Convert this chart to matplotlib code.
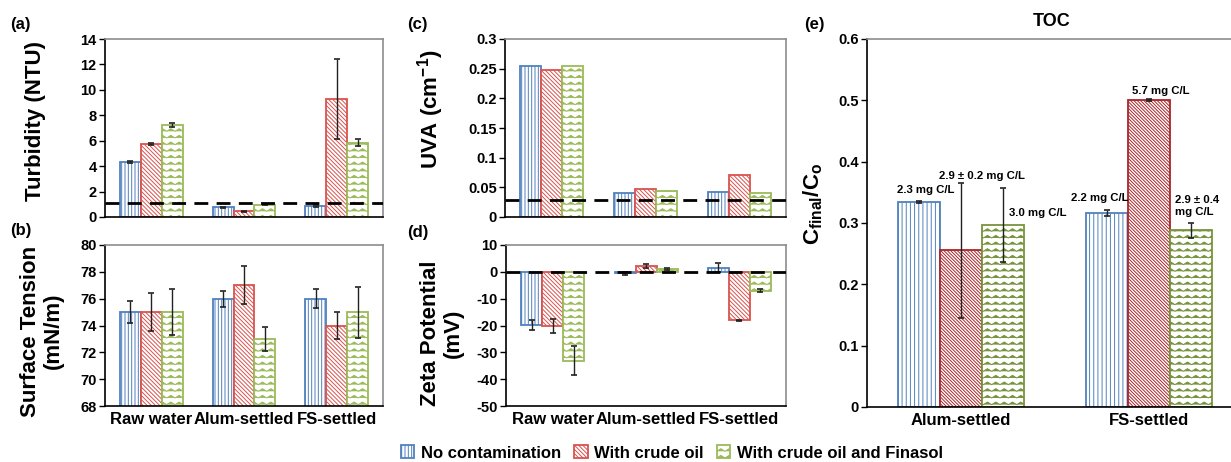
import numpy as np
import matplotlib
matplotlib.use('Agg')
import matplotlib.pyplot as plt
import matplotlib.hatch as mhatch
from matplotlib.path import Path
from matplotlib.ticker import FuncFormatter, MultipleLocator
import warnings
warnings.filterwarnings('ignore')

# ---------------- data ----------------
cats3 = ['Raw water', 'Alum-settled', 'FS-settled']
cats2 = ['Alum-settled', 'FS-settled']
series_labels = ['No contamination', 'With crude oil', 'With crude oil and Finasol']

turb_none = [4.33, 0.76, 0.84]
turb_oil = [5.73, 0.47, 9.25]
turb_fin = [7.22, 0.97, 5.83]
turb_none_err = [0.05, 0.05, 0.08]
turb_oil_err = [0.08, 0.04, 3.15]
turb_fin_err = [0.15, 0.04, 0.28]
turb_limit = 1.13

st_none = [75.0, 76.0, 76.0]
st_oil = [75.0, 77.0, 74.0]
st_fin = [75.0, 73.0, 75.0]
st_none_err = [0.8, 0.6, 0.7]
st_oil_err = [1.4, 1.4, 1.0]
st_fin_err = [1.7, 0.9, 1.9]

uva_none = [0.254, 0.041, 0.042]
uva_oil = [0.248, 0.047, 0.0715]
uva_fin = [0.255, 0.043, 0.041]
uva_limit = 0.028

zeta_none = [-19.7, -0.6, 1.5]
zeta_oil = [-20.2, 2.2, -18.1]
zeta_fin = [-33.1, 1.0, -7.0]
zeta_none_err = [1.9, 0.4, 1.7]
zeta_oil_err = [2.7, 0.9, 0.3]
zeta_fin_err = [5.5, 0.5, 0.7]
zeta_ref = 0.0

toc_none = [0.3346, 0.3161]
toc_oil = [0.2552, 0.5005]
toc_fin = [0.2971, 0.2878]
toc_none_err = [0.002, 0.005]
toc_oil_err = [0.11, 0.001]
toc_fin_err = [0.06, 0.013]
toc_labels_none = ['2.3 mg C/L', '2.2 mg C/L']
toc_labels_oil = ['2.9 \u00b1 0.2 mg C/L', '5.7 mg C/L']
toc_labels_fin = ['3.0 mg C/L', '2.9 \u00b1 0.4\nmg C/L']

# ---------------- custom wavy hatch ----------------
class WaveHatch(mhatch.HatchPatternBase):
    def __init__(self, hatch, density):
        n = hatch.count('~')
        self.rows = 15 if n else 0
        self.segs = 24
        self.num_vertices = self.rows * (self.segs + 1)

    def set_vertices_and_codes(self, vertices, codes):
        k = self.segs + 1
        xs = np.linspace(0.0, 1.0, k)
        amp = 0.013
        offs = np.where(np.arange(k) % 2 == 0, -amp, amp)
        for i in range(self.rows):
            y0 = (i + 0.5) / self.rows
            vertices[i * k:(i + 1) * k, 0] = xs
            vertices[i * k:(i + 1) * k, 1] = y0 + offs
            codes[i * k] = Path.MOVETO
            codes[i * k + 1:(i + 1) * k] = Path.LINETO

try:
    mhatch._hatch_types.append(WaveHatch)
    WAVE = '~'
except Exception:
    WAVE = 'xx'

plt.rcParams['font.family'] = ['Liberation Sans', 'DejaVu Sans']
plt.rcParams['font.weight'] = 'bold'
plt.rcParams['axes.unicode_minus'] = False
plt.rcParams['hatch.linewidth'] = 0.7
plt.rcParams['mathtext.fontset'] = 'custom'
plt.rcParams['mathtext.rm'] = 'Liberation Sans:bold'
plt.rcParams['mathtext.bf'] = 'Liberation Sans:bold'
plt.rcParams['mathtext.it'] = 'Liberation Sans:bold'

W, H = 1231, 462
fig = plt.figure(figsize=(W / 100, H / 100), dpi=100)

col_ad = ['#4F81BD', '#D9534F', '#9BBB59']
col_e = ['#4F81BD', '#A8262B', '#77933C']
hatch_ad = ['|||||', '\\' * 8, WAVE]
hatch_e = ['||||', '\\' * 10, WAVE]
BW = 0.225

def fmt(v, _):
    return f'{round(v, 4):g}'

def style_axes(ax):
    for s in ['left', 'bottom']:
        ax.spines[s].set_color('black')
        ax.spines[s].set_linewidth(1.2)
    for s in ['top', 'right']:
        ax.spines[s].set_color('#8C8C8C')
        ax.spines[s].set_linewidth(1.2)
    ax.tick_params(axis='y', direction='out', length=4, width=1, labelsize=10.5, pad=2)
    ax.tick_params(axis='x', length=0, labelsize=12, pad=4)
    ax.yaxis.set_major_formatter(FuncFormatter(fmt))

def draw(ax, cats, vals, errs, cols, hatches):
    x = np.arange(len(cats))
    for i, (v, e) in enumerate(zip(vals, errs)):
        ax.bar(x + (i - 1) * BW, v, BW, yerr=e, facecolor='white', edgecolor=cols[i],
               hatch=hatches[i], linewidth=1.3, label=series_labels[i], zorder=2,
               error_kw=dict(ecolor='#222222', elinewidth=1.0, capsize=2, capthick=1.2, zorder=3))
    ax.set_xlim(-0.5, len(cats) - 0.5)
    ax.set_xticks(x)

# (a) turbidity
ax_a = fig.add_axes([105 / W, 1 - 217 / H, 278 / W, 178 / H])
draw(ax_a, cats3, [turb_none, turb_oil, turb_fin], [turb_none_err, turb_oil_err, turb_fin_err], col_ad, hatch_ad)
ax_a.axhline(turb_limit, color='black', lw=2, dashes=(5, 3), zorder=4)
ax_a.set_ylim(0, 14)
ax_a.yaxis.set_major_locator(MultipleLocator(2))
style_axes(ax_a)
ax_a.set_xticklabels([])

# (b) surface tension
ax_b = fig.add_axes([105 / W, 1 - 406 / H, 278 / W, 161 / H])
draw(ax_b, cats3, [st_none, st_oil, st_fin], [st_none_err, st_oil_err, st_fin_err], col_ad, hatch_ad)
ax_b.set_ylim(68, 80)
ax_b.yaxis.set_major_locator(MultipleLocator(2))
style_axes(ax_b)
ax_b.set_xticklabels(cats3)

# (c) UVA
ax_c = fig.add_axes([505 / W, 1 - 217 / H, 281 / W, 178 / H])
draw(ax_c, cats3, [uva_none, uva_oil, uva_fin], [None, None, None], col_ad, hatch_ad)
ax_c.axhline(uva_limit, color='black', lw=2, dashes=(5, 3), zorder=4)
ax_c.set_ylim(0, 0.3)
ax_c.yaxis.set_major_locator(MultipleLocator(0.05))
style_axes(ax_c)
ax_c.set_xticklabels([])

# (d) zeta potential
ax_d = fig.add_axes([506 / W, 1 - 406 / H, 280 / W, 161 / H])
draw(ax_d, cats3, [zeta_none, zeta_oil, zeta_fin], [zeta_none_err, zeta_oil_err, zeta_fin_err], col_ad, hatch_ad)
ax_d.axhline(zeta_ref, color='black', lw=2, dashes=(5, 3), zorder=4)
ax_d.set_ylim(-50, 10)
ax_d.yaxis.set_major_locator(MultipleLocator(10))
style_axes(ax_d)
ax_d.set_xticklabels(cats3)

# (e) TOC
ax_e = fig.add_axes([867 / W, 1 - 407 / H, 376 / W, 368 / H])
draw(ax_e, cats2, [toc_none, toc_oil, toc_fin], [toc_none_err, toc_oil_err, toc_fin_err], col_e, hatch_e)
ax_e.set_ylim(0, 0.6)
ax_e.yaxis.set_major_locator(MultipleLocator(0.1))
style_axes(ax_e)
ax_e.set_xticklabels(cats2)

# annotations in (e)
lab_kw = dict(fontsize=8.2, fontweight='bold', va='center')
ax_e.text(-0.19, 0.354, toc_labels_none[0], ha='center', **lab_kw)
ax_e.text(0.11, 0.377, toc_labels_oil[0], ha='center', **lab_kw)
ax_e.text(0.41, 0.316, toc_labels_fin[0], ha='center', **lab_kw)
ax_e.text(0.74, 0.341, toc_labels_none[1], ha='center', **lab_kw)
ax_e.text(1.06, 0.515, toc_labels_oil[1], ha='center', **lab_kw)
ax_e.text(1.14, 0.328, toc_labels_fin[1], ha='left', linespacing=1.3, **lab_kw)

# y labels
def ftext(x, y, s, **kw):
    fig.text(x / W, 1 - y / H, s, **kw)

yl = dict(rotation=90, ha='center', va='center', fontsize=16, fontweight='bold', linespacing=1.15)
ftext(36, 121, 'Turbidity (NTU)', **yl)
ftext(42, 331, 'Surface Tension\n(mN/m)', **yl)
ftext(431, 109, r'UVA (cm$^{\mathbf{-1}}$)', **yl)
ftext(442, 333, 'Zeta Potential\n(mV)', **yl)
ftext(813, 204, r'$\mathbf{C_{final}/C_{o}}$', **yl)

pl = dict(ha='left', va='center', fontsize=12, fontweight='bold')
ftext(10, 25, '(a)', **pl)
ftext(10, 231, '(b)', **pl)
ftext(407, 25, '(c)', **pl)
ftext(407, 232, '(d)', **pl)
ftext(804, 25, '(e)', **pl)
ftext(1052, 22, 'TOC', ha='center', va='center', fontsize=13, fontweight='bold')

handles, labels = ax_d.get_legend_handles_labels()
fig.legend(handles, labels, loc='center', bbox_to_anchor=(672 / W, 1 - 453 / H), ncol=3,
           frameon=False, fontsize=12, handlelength=0.8, handleheight=0.8,
           handletextpad=0.4, columnspacing=0.8, borderpad=0.1)

fig.savefig('out.png', dpi=100)
